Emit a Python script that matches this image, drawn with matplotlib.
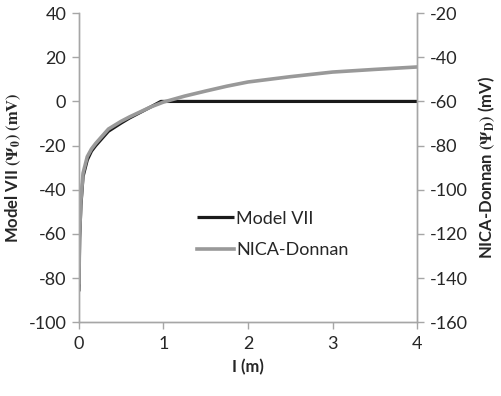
import matplotlib.pyplot as plt

# ionic strength (m)
ionic_strength = [0.001, 0.01, 0.025, 0.05, 0.1, 0.15, 0.2, 0.35, 0.5, 0.6,
                  0.85, 0.97, 1.5, 2.0, 2.5, 3.0, 3.5, 4.0]
# Model VII surface potential (mV), left axis
psi_model7 = [-86, -62, -47, -34, -26.5, -22.5, -20, -13.5, -9.8, -7.5,
              -2.5, 0, 0, 0, 0, 0, 0, 0]

# NICA-Donnan potential, right axis
nica_x = [0.001, 0.01, 0.025, 0.05, 0.1, 0.15, 0.2, 0.35, 0.5, 0.6, 0.85,
          1.0, 1.25, 1.5, 1.75, 2.0, 2.5, 3.0, 3.5, 4.0]
psi_donnan = [-142, -120, -105, -92.5, -85, -81.5, -79, -72.5, -69, -67,
              -62.5, -60.3, -57.6, -55.3, -53.1, -51.2, -48.8, -46.7,
              -45.5, -44.4]

plt.rcParams['font.family'] = ['Lato', 'DejaVu Sans']
plt.rcParams['mathtext.fontset'] = 'stix'
plt.rcParams['axes.unicode_minus'] = False

axis_grey = '#a6a6a6'
text_col = '#262626'

fig = plt.figure(figsize=(5.02, 3.96), dpi=100)
ax = fig.add_axes([0.157, 0.186, 0.674, 0.781])
ax2 = ax.twinx()

l1, = ax.plot(ionic_strength, psi_model7, color='#1a1a1a', lw=2.3,
              label='Model VII', solid_capstyle='butt')
l2, = ax2.plot(nica_x, psi_donnan, color='#999999', lw=2.6,
               label='NICA-Donnan')

ax.set_xlim(0, 4)
ax.set_ylim(-100, 40)
ax2.set_ylim(-160, -20)
ax.set_xticks(range(0, 5))
ax.set_yticks(range(-100, 41, 20))
ax2.set_yticks(range(-160, -19, 20))

for a in (ax, ax2):
    for side in a.spines:
        a.spines[side].set_color(axis_grey)
        a.spines[side].set_linewidth(1.0)
    a.spines['top'].set_visible(False)
    a.tick_params(colors=axis_grey, labelcolor=text_col, labelsize=13,
                  direction='out', length=5, width=1.0)
ax.tick_params(axis='y', pad=4)
ax2.tick_params(axis='y', pad=4)
ax.tick_params(axis='x', pad=5)

ax.set_xlabel('I (m)', fontsize=12, fontweight='bold', color=text_col,
              labelpad=5)
ax.set_ylabel(r'Model VII $\mathbf{(\Psi_0)\ (mV)}$', fontsize=12,
              fontweight='bold', color=text_col, labelpad=4)
ax2.set_ylabel(r'NICA-Donnan $\mathbf{(\Psi_D)}$ (mV)', fontsize=12,
               fontweight='bold', color=text_col, labelpad=6)

leg = ax2.legend(handles=[l1, l2], loc='center left',
                 bbox_to_anchor=(0.30, 0.285), frameon=False, fontsize=13,
                 handlelength=2.1, handletextpad=0.1, labelspacing=0.85)
for t in leg.get_texts():
    t.set_color(text_col)

fig.savefig('out.png', dpi=100)
